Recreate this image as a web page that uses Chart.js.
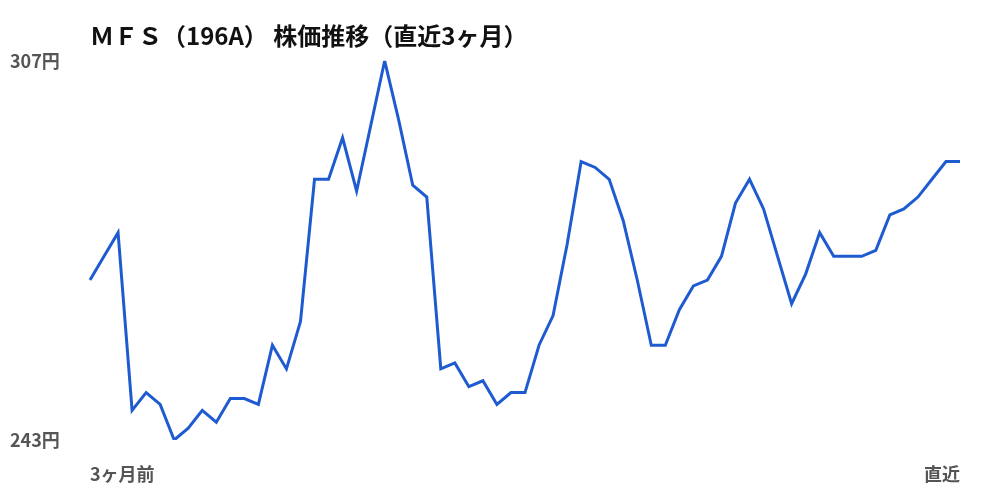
<!DOCTYPE html>
<html lang="ja">
<head>
<meta charset="utf-8">
<title>MFS 株価推移</title>
<script src="https://cdn.jsdelivr.net/npm/chart.js@4"></script>
<style>
  html, body { margin: 0; padding: 0; background: #fff; }
  #wrap { width: 1000px; height: 500px; }
</style>
</head>
<body>
<div id="wrap">
  <canvas id="priceChart" width="1000" height="500"></canvas>
</div>
<script>
// 終値（直近3ヶ月、古い順）
const prices = [
  270, 274, 278, 248, 251, 249, 243, 245, 248, 246,
  250, 250, 249, 259, 255, 263, 287, 287, 294, 285,
  296, 307, 297, 286, 284, 255, 256, 252, 253, 249,
  251, 251, 259, 264, 276, 290, 289, 287, 280, 270,
  259, 259, 265, 269, 270, 274, 283, 287, 282, 274,
  266, 271, 278, 274, 274, 274, 275, 281, 282, 284,
  287, 290, 290
]
const startLabel = "3ヶ月前"
const endLabel = "直近"
const yTicks = [243, 307]
const titleText = "ＭＦＳ（196A） 株価推移（直近3ヶ月）"

// x軸ラベル：最初と最後だけ表示
const labels = prices.map((_, i) => {
  if (i === 0) return startLabel
  if (i === prices.length - 1) return endLabel
  return ""
})

const fontFamily = "'Noto Sans CJK JP', 'Noto Sans', sans-serif"

const ctx = document.getElementById("priceChart").getContext("2d")
new Chart(ctx, {
  type: "line",
  data: {
    labels: labels,
    datasets: [
      {
        data: prices,
        borderColor: "#1f5bd0",
        borderWidth: 3,
        pointRadius: 0,
        tension: 0,
        fill: false,
      },
    ],
  },
  options: {
    responsive: false,
    animation: false,
    devicePixelRatio: 1,
    layout: {
      padding: { left: 10, right: 40, top: 0, bottom: 0 },
    },
    plugins: {
      legend: { display: false },
      tooltip: { enabled: false },
      title: {
        display: true,
        text: titleText,
        align: "start",
        fullSize: false,
        color: "#111",
        font: { family: fontFamily, size: 24, weight: "bold" },
        padding: { top: 21, bottom: 11 },
      },
    },
    scales: {
      x: {
        grid: { display: false, drawTicks: false },
        border: { display: false },
        afterFit: (axis) => {
          axis.height = 60
        },
        ticks: {
          autoSkip: false,
          maxRotation: 0,
          align: "inner",
          padding: 23,
          color: "#555",
          font: { family: fontFamily, size: 18, weight: "bold" },
        },
      },
      y: {
        min: yTicks[0],
        max: yTicks[yTicks.length - 1],
        grid: { display: false, drawTicks: false },
        border: { display: false },
        afterBuildTicks: (axis) => {
          axis.ticks = yTicks.map((v) => ({ value: v }))
        },
        afterFit: (axis) => {
          axis.width = 80
        },
        ticks: {
          crossAlign: "far",
          padding: 0,
          color: "#555",
          font: { family: fontFamily, size: 18, weight: "bold" },
          callback: (v) => v + "円",
        },
      },
    },
  },
})
</script>
</body>
</html>
